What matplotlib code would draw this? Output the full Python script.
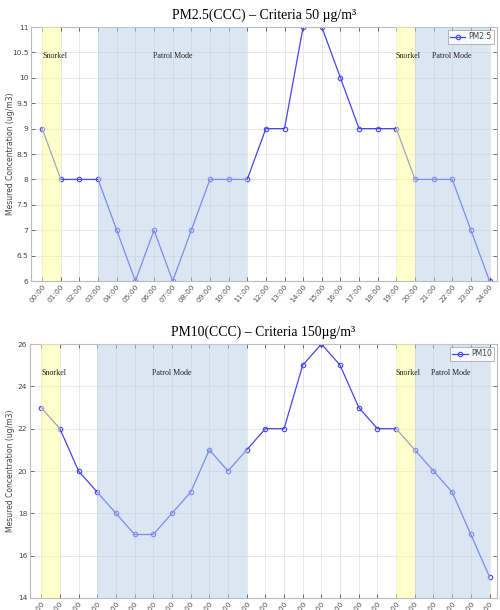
import matplotlib
matplotlib.use("Agg")
import matplotlib.pyplot as plt
import numpy as np

hours = [f"{h:02d}:00" for h in range(25)]
pm25 = [9, 8, 8, 8, 7, 6, 7, 6, 7, 8, 8, 8, 9, 9, 11, 11, 10, 9, 9, 9, 8, 8, 8, 7, 6]
pm10 = [23, 22, 20, 19, 18, 17, 17, 18, 19, 21, 20, 21, 22, 22, 25, 26, 25, 23, 22, 22, 21, 20, 19, 17, 15]

snorkel_spans = [(0, 1), (19, 20)]
patrol_spans = [(3, 11), (20, 24)]
snorkel_labels = [(0, "Snorkel"), (18.95, "Snorkel")]
patrol_labels = [(7, "Patrol Mode"), (21.95, "Patrol Mode")]

titles = ["PM2.5(CCC) \u2013 Criteria 50 \u00b5g/m\u00b3", "PM10(CCC) \u2013 Criteria 150\u00b5g/m\u00b3"]
series_names = ["PM2.5", "PM10"]
ylims = [(6, 11), (14, 26)]
yticks = [np.arange(6, 11.01, 0.5), np.arange(14, 26.01, 2)]
ytick_labels = [["6", "6.5", "7", "7.5", "8", "8.5", "9", "9.5", "10", "10.5", "11"],
                ["14", "16", "18", "20", "22", "24", "26"]]
label_y = [10.43, 24.63]

fig = plt.figure(figsize=(5.0, 6.1), dpi=100)
axes_pos = [[0.062, 0.5393, 0.932, 0.4164], [0.060, 0.0197, 0.934, 0.4163]]
ylabel_x = [-0.034, -0.032]
data = [pm25, pm10]
x = np.arange(len(hours))
line_color = "#4646ee"

for i in range(2):
    ax = fig.add_axes(axes_pos[i])
    ax.plot(x, data[i], color=line_color, lw=0.9, marker="o", ms=3.2,
            mfc="none", mec=line_color, mew=0.8, label=series_names[i], zorder=2)
    for a, b in snorkel_spans:
        ax.axvspan(a, b, color="#ffff99", alpha=0.5, lw=0, zorder=3)
    for a, b in patrol_spans:
        ax.axvspan(a, b, color="#b8cfe8", alpha=0.5, lw=0, zorder=3)
    for xx, t in snorkel_labels:
        ax.text(xx, label_y[i], t, family="Liberation Serif", fontsize=5.8,
                ha="left", va="center", color="#222222", zorder=5)
    for xx, t in patrol_labels:
        ax.text(xx, label_y[i], t, family="Liberation Serif", fontsize=5.8,
                ha="center", va="center", color="#222222", zorder=5)
    ax.set_xlim(-0.6, 24.4)
    ax.set_ylim(*ylims[i])
    ax.set_xticks(x)
    ax.set_xticklabels(hours, rotation=50, ha="right", rotation_mode="anchor",
                       fontsize=5.3, color="#555555")
    ax.set_yticks(yticks[i])
    ax.set_yticklabels(ytick_labels[i], fontsize=5.3, color="#444444")
    ax.tick_params(axis="both", direction="in", length=3, width=0.6, color="#555555", pad=2)
    ax.tick_params(axis="y", right=True)
    ax.tick_params(axis="x", top=True)
    ax.grid(True, color="#e4e4e4", lw=0.6, zorder=0)
    ax.set_axisbelow(True)
    for s in ax.spines.values():
        s.set_color("#bbbbbb")
        s.set_linewidth(0.8)
    ax.set_ylabel("Mesured Concentration (ug/m3)", fontsize=5.5, color="#444444")
    ax.yaxis.set_label_coords(ylabel_x[i], 0.5)
    ax.set_title(titles[i], family="Liberation Serif", fontsize=9.9, pad=6)
    leg = ax.legend(loc="upper right", fontsize=5.5, frameon=True, fancybox=False,
                    borderpad=0.3, handlelength=2.0, handletextpad=0.4,
                    borderaxespad=0.4)
    for t in leg.get_texts():
        t.set_color("#444444")
    leg.get_frame().set_edgecolor("#999999")
    leg.get_frame().set_linewidth(0.6)
    leg.set_zorder(6)

fig.savefig("out.png", dpi=100)
